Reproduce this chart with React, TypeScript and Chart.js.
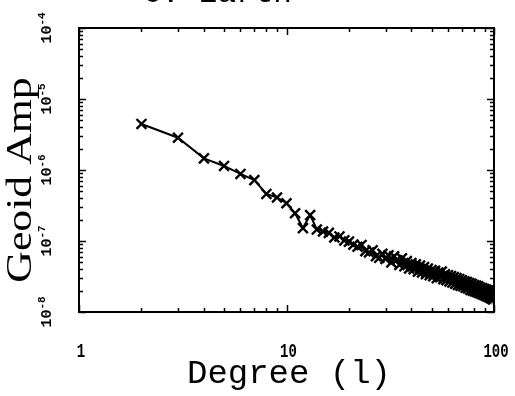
import React, { useEffect, useRef } from "react";
import { Chart, registerables } from "chart.js";

Chart.register(...registerables);

const TITLE = "C. Earth";
const X_TITLE = "Degree (l)";
const Y_TITLE = "Geoid Amp";

const DEGREES = [
  2, 3, 4, 5, 6, 7, 8, 9, 10, 11, 12, 13, 14, 15, 16, 17, 18, 19, 20,
  21, 22, 23, 24, 25, 26, 27, 28, 29, 30, 31, 32, 33, 34, 35, 36, 37, 38, 39, 40,
  41, 42, 43, 44, 45, 46, 47, 48, 49, 50, 51, 52, 53, 54, 55, 56, 57, 58, 59, 60,
  61, 62, 63, 64, 65, 66, 67, 68, 69, 70, 71, 72, 73, 74, 75, 76, 77, 78, 79, 80,
  81, 82, 83, 84, 85, 86, 87, 88, 89, 90, 91, 92, 93, 94, 95, 96, 97, 98, 99, 100,
];

const GEOID_AMP = [
  4.45e-6, 2.85e-6, 1.46e-6, 1.14e-6, 8.8e-7, 7.2e-7, 4.6e-7, 4.1e-7, 3.4e-7, 2.46e-7,
  1.52e-7, 2.32e-7, 1.45e-7, 1.36e-7, 1.3e-7, 1.12e-7, 1.16e-7, 1.02e-7, 9.8e-8,
  8.9e-8, 8.3e-8, 8.8e-8, 7.2e-8, 6.9e-8, 7.4e-8, 6.1e-8, 5.8e-8, 6.6e-8, 5.6e-8,
  6.3e-8, 5.0e-8, 6.1e-8, 5.4e-8, 4.6e-8, 5.7e-8, 4.4e-8, 5.2e-8, 4.1e-8, 4.9e-8,
  4.0e-8, 4.7e-8, 3.7e-8, 4.5e-8, 3.6e-8, 4.3e-8, 3.4e-8, 4.1e-8, 3.3e-8, 3.9e-8,
  3.2e-8, 3.8e-8, 3.0e-8, 3.6e-8, 3.1e-8, 3.7e-8, 2.9e-8, 3.4e-8, 2.8e-8, 3.3e-8,
  2.7e-8, 3.2e-8, 2.6e-8, 3.1e-8, 2.5e-8, 3.0e-8, 2.4e-8, 2.9e-8, 2.35e-8, 2.8e-8,
  2.3e-8, 2.7e-8, 2.2e-8, 2.65e-8, 2.15e-8, 2.55e-8, 2.05e-8, 2.5e-8, 2.0e-8, 2.4e-8,
  1.95e-8, 2.35e-8, 1.9e-8, 2.3e-8, 1.85e-8, 2.2e-8, 1.8e-8, 2.15e-8, 1.75e-8, 2.1e-8,
  1.7e-8, 2.05e-8, 1.65e-8, 2.0e-8, 1.6e-8, 1.95e-8, 1.55e-8, 1.85e-8, 1.5e-8, 1.8e-8,
];

const X_TICKS = [1, 10, 100];
const X_TICK_LABELS = ["1", "10", "100"];
const Y_TICKS = [1e-8, 1e-7, 1e-6, 1e-5, 1e-4];
const Y_TICK_BASE = "10";
const Y_TICK_EXPONENTS = ["-8", "-7", "-6", "-5", "-4"];

const X_MIN = 1;
const X_MAX = 100;
const Y_MIN = 1e-8;
const Y_MAX = 1e-4;

function logTicks(min: number, max: number): { v: number; major: boolean }[] {
  const out: { v: number; major: boolean }[] = [];
  for (let e = Math.round(Math.log10(min)); e <= Math.round(Math.log10(max)); e++) {
    for (let m = 1; m <= 9; m++) {
      const v = m * Math.pow(10, e);
      if (v < min * 0.999 || v > max * 1.001) continue;
      out.push({ v, major: m === 1 });
    }
  }
  return out;
}

const framePlugin = {
  id: "frameTicks",
  afterDatasetsDraw(chart: any) {
    const { ctx, chartArea } = chart;
    const xs = chart.scales.x;
    const ys = chart.scales.y;
    const { left, right, top, bottom } = chartArea;
    ctx.save();
    ctx.strokeStyle = "#000";
    ctx.lineWidth = 2;
    ctx.strokeRect(left, top, right - left, bottom - top);
    ctx.lineWidth = 1.5;
    for (const t of logTicks(X_MIN, X_MAX)) {
      const px = Math.round(xs.getPixelForValue(t.v)) + 0.5;
      const len = t.major ? 7 : 4;
      ctx.beginPath();
      ctx.moveTo(px, bottom);
      ctx.lineTo(px, bottom - len);
      ctx.moveTo(px, top);
      ctx.lineTo(px, top + len);
      ctx.stroke();
    }
    for (const t of logTicks(Y_MIN, Y_MAX)) {
      const py = Math.round(ys.getPixelForValue(t.v)) + 0.5;
      const len = t.major ? 7 : 4;
      ctx.beginPath();
      ctx.moveTo(left, py);
      ctx.lineTo(left + len, py);
      ctx.moveTo(right, py);
      ctx.lineTo(right - len, py);
      ctx.stroke();
    }
    ctx.restore();
  },
  afterDraw(chart: any) {
    const { ctx } = chart;
    const xs = chart.scales.x;
    const ys = chart.scales.y;
    ctx.save();
    ctx.fillStyle = "#000";

    // x tick labels (slightly tall glyphs)
    X_TICKS.forEach((v, i) => {
      const px = xs.getPixelForValue(v);
      ctx.save();
      ctx.translate(px + 2, 357);
      ctx.scale(1, 1.5);
      ctx.font = "bold 14px 'Liberation Mono'";
      ctx.textAlign = "center";
      ctx.textBaseline = "alphabetic";
      ctx.fillText(X_TICK_LABELS[i], 0, 0);
      ctx.restore();
    });

    // y tick labels rotated, reading bottom to top, with superscript exponent
    Y_TICKS.forEach((v, i) => {
      const py = ys.getPixelForValue(v);
      ctx.save();
      ctx.translate(51, py);
      ctx.rotate(-Math.PI / 2);
      const baseFont = "bold 15px 'Liberation Mono'";
      const supFont = "bold 11px 'Liberation Mono'";
      ctx.font = baseFont;
      const w1 = ctx.measureText(Y_TICK_BASE).width;
      ctx.font = supFont;
      const w2 = ctx.measureText(Y_TICK_EXPONENTS[i]).width;
      const start = -(w1 + w2) / 2;
      ctx.textAlign = "left";
      ctx.textBaseline = "alphabetic";
      ctx.font = baseFont;
      ctx.fillText(Y_TICK_BASE, start, 0);
      ctx.font = supFont;
      ctx.fillText(Y_TICK_EXPONENTS[i], start + w1, -6);
      ctx.restore();
    });

    // x axis title
    ctx.font = "34px 'Liberation Mono'";
    ctx.textAlign = "center";
    ctx.textBaseline = "alphabetic";
    ctx.fillText(X_TITLE, 289, 383);

    // y axis title (stretched along the text direction)
    ctx.save();
    ctx.translate(31, 180);
    ctx.rotate(-Math.PI / 2);
    ctx.scale(1.25, 1);
    ctx.font = "35px 'Liberation Serif'";
    ctx.textAlign = "center";
    ctx.textBaseline = "alphabetic";
    ctx.fillText(Y_TITLE, 0, 0);
    ctx.restore();

    // title (cut off at top of the image)
    ctx.font = "31px 'Liberation Mono'";
    ctx.textAlign = "left";
    ctx.textBaseline = "alphabetic";
    ctx.fillText(TITLE, 143, 2);

    ctx.restore();
  },
};

export default function App() {
  const canvasRef = useRef<HTMLCanvasElement | null>(null);

  useEffect(() => {
    if (!canvasRef.current) return;
    const points = DEGREES.map((d, i) => ({ x: d, y: GEOID_AMP[i] }));
    const chart = new Chart(canvasRef.current, {
      type: "line",
      data: {
        datasets: [
          {
            data: points,
            borderColor: "#000",
            backgroundColor: "#000",
            borderWidth: 2,
            pointStyle: "crossRot",
            pointRadius: 7,
            pointBorderWidth: 2.4,
            pointBorderColor: "#000",
            tension: 0,
            fill: false,
          },
        ],
      },
      options: {
        animation: false,
        responsive: false,
        devicePixelRatio: 1,
        layout: { padding: { left: 79, top: 28, right: 21, bottom: 84 } },
        plugins: { legend: { display: false }, tooltip: { enabled: false }, title: { display: false } },
        scales: {
          x: { type: "logarithmic", min: X_MIN, max: X_MAX, display: false },
          y: { type: "logarithmic", min: Y_MIN, max: Y_MAX, display: false },
        },
      },
      plugins: [framePlugin],
    });
    return () => chart.destroy();
  }, []);

  return (
    <div style={{ position: "absolute", left: 0, top: 0, width: 515, height: 396, background: "#fff" }}>
      <canvas ref={canvasRef} width={515} height={396} style={{ width: 515, height: 396 }} />
    </div>
  );
}
